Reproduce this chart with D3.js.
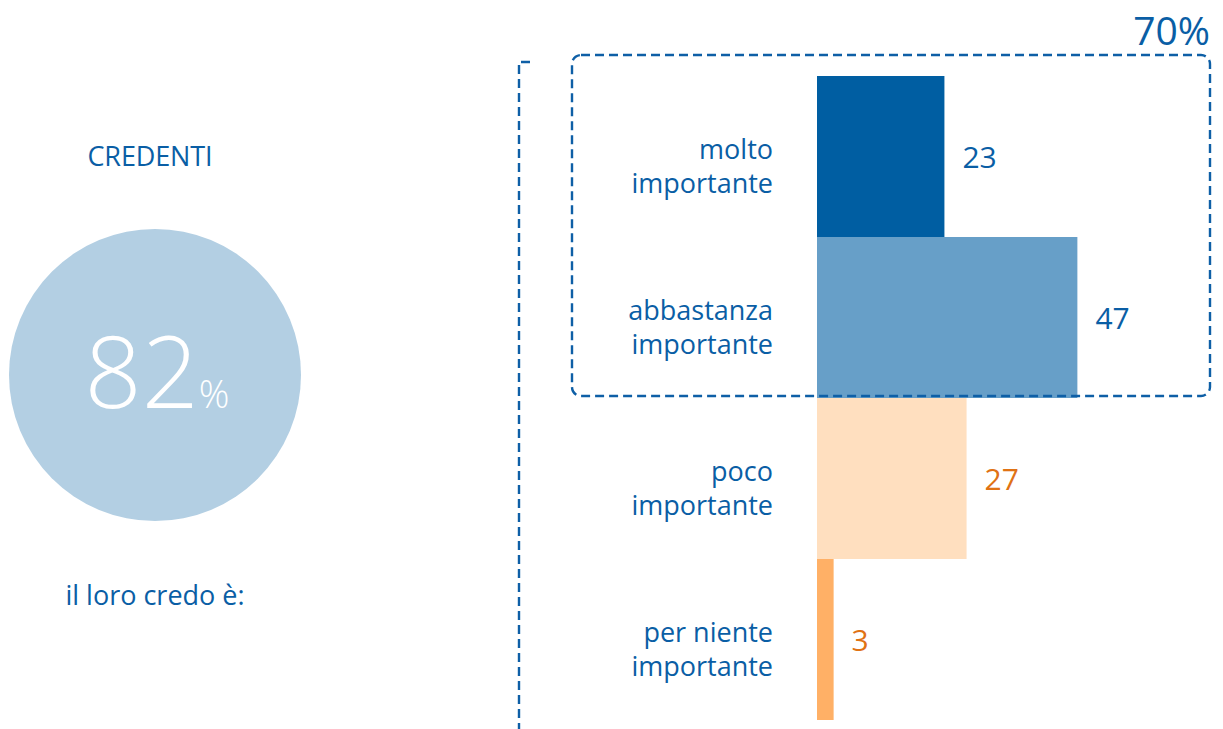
<!DOCTYPE html>
<html>
<head>
<meta charset="utf-8">
<script src="https://cdn.jsdelivr.net/npm/d3@7"></script>
<style>
  body { margin: 0; background: #fff; }
  svg { display: block; font-family: "Open Sans", "Noto Sans", sans-serif; }
</style>
</head>
<body>
<svg id="chart" width="1223" height="729"></svg>
<script>
// Data
const categories = [["molto", "importante"], ["abbastanza", "importante"], ["poco", "importante"], ["per niente", "importante"]];
const values = [23, 47, 27, 3];
const barColors = ["#005ea2", "#679fc8", "#ffdfbf", "#ffb066"];
const labelColors = ["#0a5ea5", "#0a5ea5", "#e07214", "#e07214"];
const believers = 82;
const groupTotal = 70;

const svg = d3.select("#chart");
const blue = "#0a5ea5";

// Left side: circle
svg.append("text")
    .attr("x", 150).attr("y", 166)
    .attr("text-anchor", "middle")
    .attr("font-size", 27).attr("font-weight", 400)
    .attr("textLength", 125)
    .attr("fill", blue)
    .text("CREDENTI");

svg.append("circle")
    .attr("cx", 155).attr("cy", 375).attr("r", 146)
    .attr("fill", "#b3cfe3");

const big = svg.append("text")
    .attr("x", 157).attr("y", 408)
    .attr("text-anchor", "middle")
    .attr("fill", "#fff")
    .attr("font-weight", 300);
big.append("tspan").attr("font-size", 100).text(believers);
big.append("tspan").attr("font-size", 38).text("%");

svg.append("text")
    .attr("x", 155).attr("y", 605)
    .attr("text-anchor", "middle")
    .attr("font-size", 27).attr("font-weight", 400)
    .attr("fill", blue)
    .text("il loro credo è:");

// Bars
const x = d3.scaleLinear().domain([0, 100]).range([817, 1371]);
const y = d3.scaleBand().domain(d3.range(values.length)).range([76, 720]).padding(0);

svg.selectAll("rect.bar")
    .data(values)
    .join("rect")
    .attr("class", "bar")
    .attr("x", x(0))
    .attr("y", (d, i) => y(i))
    .attr("width", d => x(d) - x(0))
    .attr("height", y.bandwidth())
    .attr("fill", (d, i) => barColors[i]);

svg.selectAll("text.val")
    .data(values)
    .join("text")
    .attr("class", "val")
    .attr("x", d => x(d) + 18)
    .attr("y", (d, i) => y(i) + y.bandwidth() / 2 + 11)
    .attr("font-size", 30)
    .attr("fill", (d, i) => labelColors[i])
    .text(d => d);

const cat = svg.selectAll("text.cat")
    .data(categories)
    .join("text")
    .attr("class", "cat")
    .attr("text-anchor", "end")
    .attr("font-size", 27).attr("font-weight", 400)
    .attr("fill", blue);
cat.selectAll("tspan")
    .data((d, i) => d.map(t => ({ t, i })))
    .join("tspan")
    .attr("x", 773)
    .attr("y", (d, j) => y(d.i) + y.bandwidth() / 2 + 2 + j * 34)
    .text(d => d.t);

// Dashed group box
svg.append("rect")
    .attr("x", 572).attr("y", 55)
    .attr("width", 638).attr("height", 341)
    .attr("rx", 9)
    .attr("fill", "none")
    .attr("stroke", "#0e5fa6").attr("stroke-width", 2.4)
    .attr("stroke-dasharray", "9,5");

svg.append("text")
    .attr("x", 1210).attr("y", 45)
    .attr("text-anchor", "end")
    .attr("font-size", 39)
    .attr("fill", blue)
    .text(groupTotal + "%");

// Left bracket line
svg.append("path")
    .attr("d", "M530,62 H519 V729")
    .attr("fill", "none")
    .attr("stroke", "#0e5fa6").attr("stroke-width", 2.4)
    .attr("stroke-dasharray", "9,5");
</script>
</body>
</html>
